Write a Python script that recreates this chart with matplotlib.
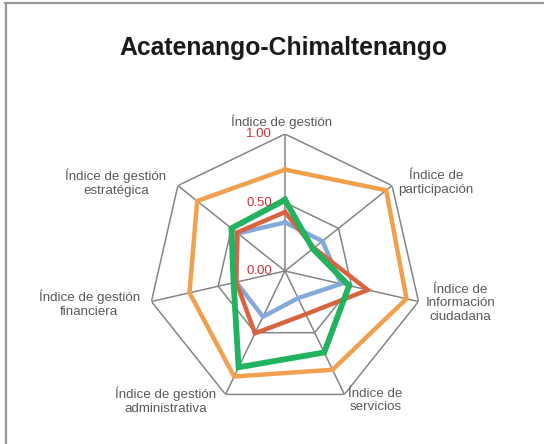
import numpy as np
import matplotlib
matplotlib.use('Agg')
import matplotlib.pyplot as plt
from matplotlib.lines import Line2D

plt.rcParams['font.family'] = ['Liberation Sans', 'DejaVu Sans']

# data
categories = ['Índice de gestión', 'Índice de\nparticipación', 'Índice de\nInformación\nciudadana',
              'Índice de\nservicios', 'Índice de gestión\nadministrativa',
              'Índice de gestión\nfinanciera', 'Índice de gestión\nestratégica']
blue = [0.355, 0.35, 0.42, 0.22, 0.37, 0.365, 0.44]
red = [0.43, 0.27, 0.62, 0.35, 0.505, 0.365, 0.45]
orange = [0.74, 0.945, 0.91, 0.80, 0.855, 0.715, 0.82]
green = [0.52, 0.26, 0.48, 0.66, 0.78, 0.385, 0.50]
ticks = [0.0, 0.5, 1.0]
tick_labels = ['0.00', '0.50', '1.00']

n = len(categories)
theta = np.arange(n) * 2 * np.pi / n
theta_c = np.append(theta, theta[0])

fig = plt.figure(figsize=(5.44, 4.44), dpi=100)
ax = fig.add_axes([0.272, 0.0811, 0.5037, 0.617], projection='polar')
ax.set_theta_zero_location('N')
ax.set_theta_direction(-1)
ax.set_ylim(0, 1)
ax.grid(False)
ax.spines['polar'].set_visible(False)
ax.set_xticks([])
ax.set_yticks([])
ax.patch.set_alpha(0)

# heptagon grid + spokes
grid_col = '#858585'
for t in ticks[1:]:
    ax.plot(theta_c, [t] * (n + 1), color=grid_col, lw=1.1, zorder=1)
for a in theta:
    ax.plot([a, a], [0, 1], color=grid_col, lw=1.1, zorder=1)

series = [(blue, '#85a9da', 3.2), (red, '#d9623f', 3.2),
          (orange, '#f0a04e', 3.2), (green, '#21b35f', 4.2)]
for vals, col, lw in series:
    ax.plot(theta_c, vals + vals[:1], color=col, lw=lw, zorder=3,
            solid_joinstyle='miter')

# radial tick labels
for t, lab in zip(ticks, tick_labels):
    ax.annotate(lab, (0, t), xytext=(-13, 0), textcoords='offset pixels',
                ha='right', va='center', fontsize=9.5, color='#c8323c', zorder=4)

# category labels
offsets = [(-3, 12), (44, 3), (42, -2), (31, -6), (-60, -6), (-62, -2), (-62, 3)]
for a, lab, off in zip(theta, categories, offsets):
    ax.annotate(lab, (a, 1), xytext=off, textcoords='offset pixels',
                ha='center', va='center', multialignment='center',
                fontsize=9.6, color='#5a5a5a', linespacing=1.2)

fig.text(0.52, 0.893, 'Acatenango-Chimaltenango', ha='center', va='center',
         fontsize=17.8, fontweight='bold', color='#1a1a1a')

# border on top and left
fig.add_artist(Line2D([5 / 544, 1], [1 - 3 / 444, 1 - 3 / 444], color='#9a9a9a', lw=1.6))
fig.add_artist(Line2D([6 / 544, 6 / 544], [0, 1 - 3 / 444], color='#9a9a9a', lw=1.6))

fig.savefig('out.png', dpi=100)
